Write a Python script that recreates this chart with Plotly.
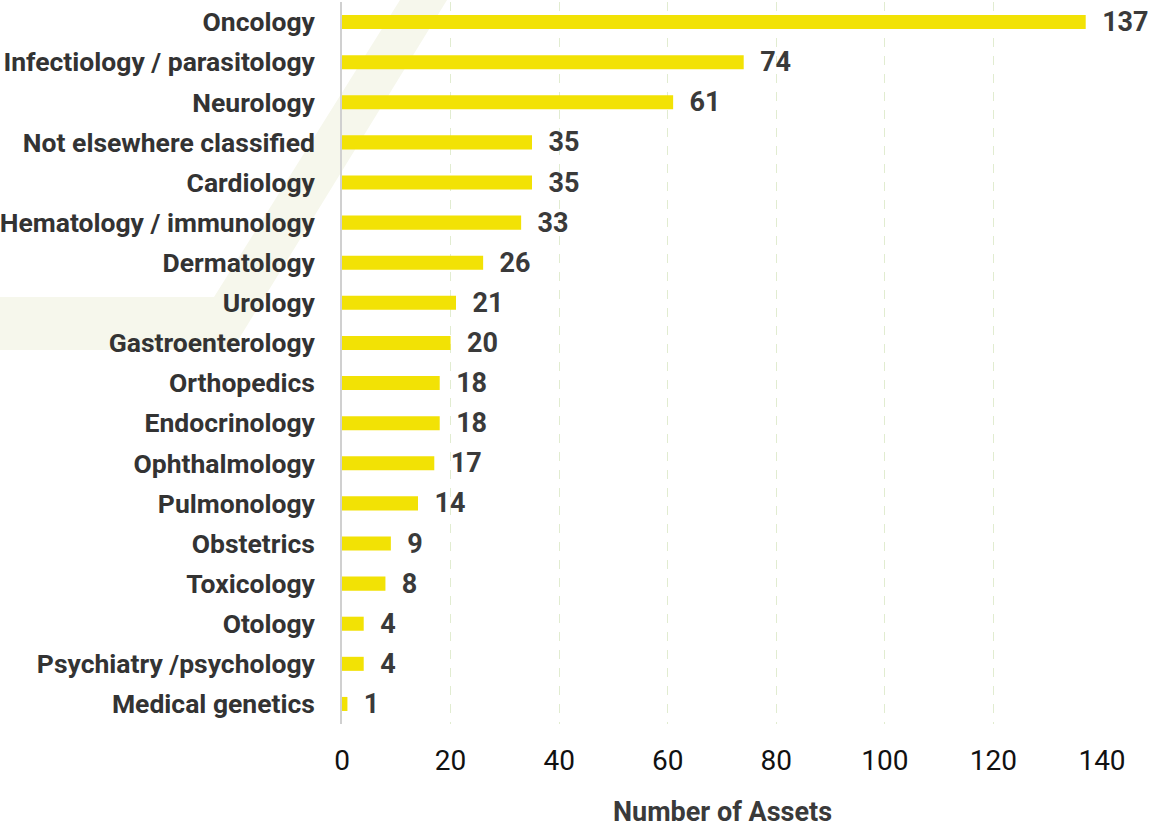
import plotly.graph_objects as go

categories = ["Oncology", "Infectiology / parasitology", "Neurology", "Not elsewhere classified",
              "Cardiology", "Hematology / immunology", "Dermatology", "Urology", "Gastroenterology",
              "Orthopedics", "Endocrinology", "Ophthalmology", "Pulmonology", "Obstetrics",
              "Toxicology", "Otology", "Psychiatry /psychology", "Medical genetics"]
values = [137, 74, 61, 35, 35, 33, 26, 21, 20, 18, 18, 17, 14, 9, 8, 4, 4, 1]
x_ticks = [0, 20, 40, 60, 80, 100, 120, 140]
x_title = "Number of Assets"

W, H = 1150, 829
ML, MR, MT, MB = 342, 48, 2, 105
pw, ph = W - ML - MR, H - MT - MB

def px(x):
    return (x - ML) / pw

def py(y):
    return 1 - (y - MT) / ph

poly = [(0, 297), (214, 297), (400, 0), (447, 0), (232, 350), (0, 350)]
path = "M " + " L ".join(f"{px(a):.4f},{py(b):.4f}" for a, b in poly) + " Z"

fig = go.Figure(go.Bar(
    x=values, y=categories, orientation="h",
    marker=dict(color="#f2e205", line=dict(width=0)),
    width=0.35,
    text=["  " + str(v) for v in values], textposition="outside",
    constraintext="none",
    textfont=dict(family="Roboto", size=27, color="#3a3a3a", weight="bold"),
    cliponaxis=False,
))

fig.update_layout(
    width=W, height=H,
    margin=dict(l=ML, r=MR, t=MT, b=MB),
    paper_bgcolor="white", plot_bgcolor="rgba(0,0,0,0)",
    showlegend=False,
    uniformtext=dict(minsize=27, mode="show"),
    shapes=[dict(type="path", path=path, xref="paper", yref="paper",
                 fillcolor="#f6f7ec", line=dict(width=0), layer="below")],
    annotations=[dict(text=x_title, xref="paper", yref="paper", x=0.5, y=py(812),
                      xanchor="center", yanchor="middle", showarrow=False, borderpad=0,
                      font=dict(family="Roboto", size=27, color="#3a3a3a", weight="bold"))],
    xaxis=dict(range=[0, 140], tickvals=x_ticks, ticktext=[str(t) for t in x_ticks],
               showgrid=True, gridcolor="#e1ecd0", griddash="dash", gridwidth=1,
               zeroline=False, showline=False, ticks="", ticklen=0,
               ticklabelstandoff=17,
               tickfont=dict(family="Roboto", size=28, color="#111111"),
               automargin=False),
    yaxis=dict(autorange="reversed", showgrid=False, zeroline=False,
               showline=True, linecolor="#d0d0d0", linewidth=2,
               ticks="", ticksuffix="   ",
               tickfont=dict(family="Roboto", size=26.5, color="#333333", weight="bold"),
               automargin=False),
    bargap=0.65,
)

fig.write_html("out.html", config={"displayModeBar": False},
               post_script="document.body.style.margin='0';document.body.style.overflow='hidden';")
